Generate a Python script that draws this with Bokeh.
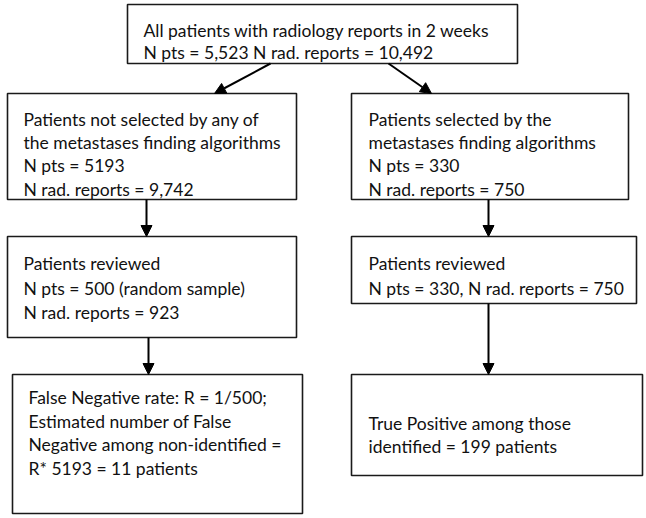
from bokeh.plotting import figure
from bokeh.models import Range1d, Arrow, NormalHead, ColumnDataSource
from bokeh.core.properties import value
from bokeh.embed import file_html
from bokeh.resources import INLINE

# ---- content ----
box_texts = [
    ["All patients with radiology reports in 2 weeks",
     "N pts = 5,523 N rad. reports = 10,492"],
    ["Patients not selected by any of",
     "the metastases finding algorithms",
     "N pts = 5193",
     "N rad. reports = 9,742"],
    ["Patients selected by the",
     "metastases finding algorithms",
     "N pts = 330",
     "N rad. reports = 750"],
    ["Patients reviewed",
     "N pts = 500 (random sample)",
     "N rad. reports = 923"],
    ["Patients reviewed",
     "N pts = 330, N rad. reports = 750"],
    ["False Negative rate: R = 1/500;",
     "Estimated number of False",
     "Negative among non-identified =",
     "R* 5193 = 11 patients"],
    ["True Positive among those",
     "identified = 199 patients"],
]

# ---- layout (reference image pixel coordinates) ----
box_left   = [127, 7, 351, 7, 351, 12, 351]
box_right  = [517, 296, 628, 296, 636, 302, 642]
box_top    = [4, 93, 93, 236, 236, 374, 374]
box_bottom = [63, 199, 199, 337, 303, 513, 475]
text_x     = [143, 23, 368, 23, 368, 28, 368]
first_base = [30, 119, 119, 263, 263, 397, 423]
line_step  = [22, 23.2, 23.2, 24.5, 24.5, 23.7, 22.5]

arrows = [  # x0, y0, x1, y1
    (270, 63, 214, 93),
    (388, 63, 431, 93),
    (146, 199, 146, 236),
    (488, 199, 488, 236),
    (148, 337, 148, 374),
    (488, 303, 488, 374),
]

W, H = 646, 518
p = figure(width=W, height=H, output_backend="svg", toolbar_location=None,
           x_range=Range1d(0, W), y_range=Range1d(H, 0),
           min_border=0, min_border_left=0, min_border_right=0,
           min_border_top=0, min_border_bottom=0)
p.xaxis.visible = False
p.yaxis.visible = False
p.grid.visible = False
p.outline_line_color = None
p.background_fill_color = "white"
p.border_fill_color = "white"

src = ColumnDataSource(dict(left=box_left, right=box_right, top=box_top, bottom=box_bottom))
p.quad(left="left", right="right", top="top", bottom="bottom", source=src,
       fill_color="white", line_color="#1a1a1a", line_width=1.6)

xs, ys, ts = [], [], []
for i, lines in enumerate(box_texts):
    for j, t in enumerate(lines):
        xs.append(text_x[i])
        ys.append(first_base[i] + j * line_step[i])
        ts.append(t)
p.text(x=xs, y=ys, text=ts, text_font=value("Lato"), text_font_size="17.5px",
       text_color="#111111", text_baseline="alphabetic", text_align="left")

for (x0, y0, x1, y1) in arrows:
    p.add_layout(Arrow(end=NormalHead(size=11, fill_color="black", line_color="black", line_width=1),
                       x_start=x0, y_start=y0, x_end=x1, y_end=y1,
                       line_color="black", line_width=2))

open("out.html", "w").write(file_html(p, INLINE))
